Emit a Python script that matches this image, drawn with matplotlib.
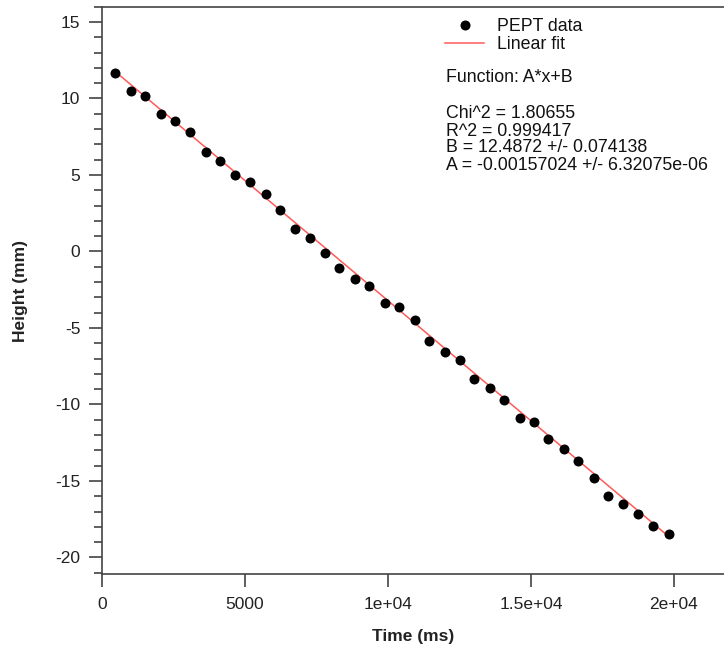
import numpy as np
import matplotlib
matplotlib.use("Agg")
import matplotlib.pyplot as plt
from matplotlib.ticker import MultipleLocator, FixedLocator

# ---- data ----
time_ms = [470, 1020, 1520, 2060, 2570, 3070, 3620, 4130, 4660, 5180,
           5740, 6240, 6740, 7270, 7790, 8280, 8830, 9350, 9900, 10390,
           10960, 11440, 12000, 12510, 13000, 13560, 14050, 14610, 15120, 15600,
           16170, 16650, 17210, 17710, 18220, 18760, 19280, 19820]
height_mm = [11.64, 10.49, 10.16, 9.00, 8.52, 7.78, 6.48, 5.93, 4.97, 4.51,
             3.75, 2.72, 1.50, 0.85, -0.09, -1.11, -1.83, -2.25, -3.36, -3.64,
             -4.49, -5.82, -6.57, -7.11, -8.33, -8.90, -9.73, -10.86, -11.15, -12.28,
             -12.93, -13.70, -14.83, -15.96, -16.51, -17.19, -17.92, -18.49]
fit_A = -0.00157024
fit_B = 12.4872
x_ticks = [0, 5000, 10000, 15000, 20000]
x_tick_labels = ["0", "5000", "1e+04", "1.5e+04", "2e+04"]
y_ticks = [15, 10, 5, 0, -5, -10, -15, -20]
legend_labels = ["PEPT data", "Linear fit"]
function_text = "Function: A*x+B"
stats_lines = ["Chi^2 = 1.80655", "R^2 = 0.999417",
               "B = 12.4872 +/- 0.074138", "A = -0.00157024 +/- 6.32075e-06"]

plt.rcParams['font.family'] = ['Liberation Sans', 'DejaVu Sans']
plt.rcParams['axes.unicode_minus'] = False

W, H = 724, 652
fig = plt.figure(figsize=(W / 100, H / 100), dpi=100)
ax = fig.add_axes([102 / W, 1 - 574.3 / H, 1 - 102 / W, (574.3 - 6.7) / H])

t = np.array(time_ms)
h = np.array(height_mm)
fit_x = np.array([t.min(), t.max()])
fit_y = fit_A * fit_x + fit_B

pts, = ax.plot(t, h, 'o', color='black', markersize=7.2, markeredgewidth=0,
               zorder=3, label=legend_labels[0])
ln, = ax.plot(fit_x, fit_y, '-', color='#ff5a5a', linewidth=1.1, zorder=2,
              label=legend_labels[1])

ax.set_xlim(0, 21750)
ax.set_ylim(-21.1, 16.0)

ax.xaxis.set_major_locator(FixedLocator(x_ticks))
ax.set_xticklabels(x_tick_labels)
ax.yaxis.set_major_locator(FixedLocator(y_ticks))
ax.yaxis.set_minor_locator(MultipleLocator(1))

spine_col = '#444444'
for s in ['left', 'bottom', 'top']:
    ax.spines[s].set_color(spine_col)
    ax.spines[s].set_linewidth(1.2)
ax.spines['right'].set_visible(False)

ax.tick_params(axis='both', which='major', direction='out', length=9.5,
               width=1.1, color='#333333', labelsize=12.5, labelcolor='#222222')
ax.tick_params(axis='y', which='major', pad=6)
ax.tick_params(axis='x', which='major', pad=7)
ax.tick_params(axis='y', which='minor', direction='out', length=5.5,
               width=1.1, color='#333333')
ax.tick_params(axis='x', which='minor', bottom=False)
ax.tick_params(top=False, right=False)

ax.set_xlabel("Time (ms)", fontsize=12.5, fontweight='bold', color='#222222')
ax.set_ylabel("Height (mm)", fontsize=12.5, fontweight='bold', color='#222222')
ax.xaxis.set_label_coords(0.5, (574.3 - 637) / (574.3 - 6.7))
ax.yaxis.set_label_coords((21 - 102) / (W - 102), 0.5)
ax.xaxis.label.set_va('center')
ax.yaxis.label.set_va('center')

leg = ax.legend(handles=[pts, ln], loc='upper left',
                bbox_to_anchor=(445 / W, 1 - 18 / H), bbox_transform=fig.transFigure,
                frameon=False, fontsize=12.8, handlelength=2.2, handletextpad=0.75,
                labelspacing=0.08, borderpad=0, borderaxespad=0, numpoints=1)
for txt in leg.get_texts():
    txt.set_color('#111111')

fig.text(446 / W, 1 - 77 / H, function_text, fontsize=12.8, va='center', ha='left', color='#111111')
ys = [114, 131, 148, 165]
for line, yy in zip(stats_lines, ys):
    fig.text(446 / W, 1 - yy / H, line, fontsize=12.8, va='center', ha='left', color='#111111')

fig.savefig("out.png", dpi=100)
